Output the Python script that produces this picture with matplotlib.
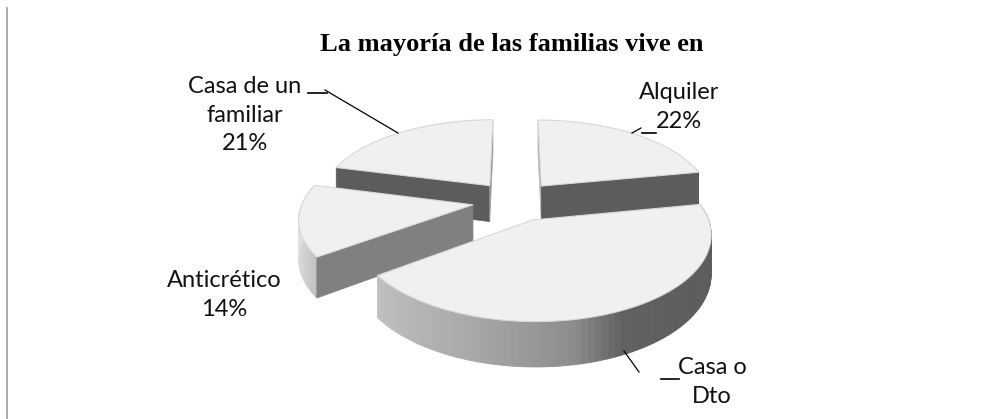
#!/usr/bin/env python3
"""
Exploded 3D pie: La mayoria de las familias vive en
"""

import numpy as np
import matplotlib
matplotlib.use('Agg')
import matplotlib.pyplot as plt

# Data
categories = ['Alquiler', 'Casa o Dto', 'Anticrético', 'Casa de un familiar']
values = [22, 43, 14, 21]
label_texts = ['Alquiler\n22%', 'Casa o\nDto', 'Anticrético\n14%', 'Casa de un\nfamiliar\n21%']

# Projection of the pie plane onto the picture (pixels)
cx, cy = 515, 201
scale_x, scale_y = 170, 80
persp = 0.15
explode = 0.25
depth = 37
top_color = '#f0f0f0'
edge_color = '#d8d8d8'


def project(x, y):
    w = 1 + persp * y
    return cx + scale_x * x / w, cy - scale_y * y / w, depth / w


def wall_gray(theta):
    # shade of the rim by angle: dark on the right, pale on the left
    t = np.clip((np.cos(np.radians(theta)) + 1) / 2, 0, 1)
    return np.interp(t, [0, 0.1, 0.35, 0.6, 0.72, 1], [0.88, 0.75, 0.66, 0.55, 0.38, 0.36])


def draw_slice(ax, theta1, theta2, side_grays):
    """theta1 > theta2, going clockwise. side_grays None = cut face hidden"""
    mid = np.radians((theta1 + theta2) / 2)
    ox, oy = explode * np.cos(mid), explode * np.sin(mid)
    angles = np.linspace(theta1, theta2, 80)
    rx = ox + np.cos(np.radians(angles))
    ry = oy + np.sin(np.radians(angles))
    px, py, pd = project(rx, ry)
    ax0, ay0, ad0 = project(ox, oy)

    # rim, split in small pieces to get the gradient
    for i in range(len(angles) - 1):
        if np.sin(np.radians(angles[i])) > 0.25:
            continue
        g = str(float(wall_gray(angles[i])))
        ax.fill([px[i], px[i + 1], px[i + 1], px[i]],
                [py[i], py[i + 1], py[i + 1] + pd[i + 1], py[i] + pd[i]],
                facecolor=g, edgecolor=g, linewidth=0.6, zorder=2)

    # flat cut faces
    for i, gray in zip([0, -1], side_grays):
        if gray is None:
            continue
        ax.fill([ax0, px[i], px[i], ax0],
                [ay0, py[i], py[i] + pd[i], ay0 + ad0],
                facecolor=str(gray), edgecolor=str(gray), linewidth=0.5, zorder=2)

    # top surface
    ax.fill(np.r_[ax0, px], np.r_[ay0, py], facecolor=top_color,
            edgecolor=edge_color, linewidth=0.8, zorder=2)


fig, ax = plt.subplots(figsize=(10.08, 4.19), dpi=100)
fig.subplots_adjust(0, 0, 1, 1)
ax.set_xlim(0, 1008)
ax.set_ylim(419, 0)
ax.axis('off')

# Angles start at 12 o'clock and go clockwise
edges = 90 - np.cumsum([0] + values) * 3.6
cut_faces = [(0.7, 0.36), (None, None), (0.5, None), (0.36, 0.6)]

# Back slices first so the front ones cover them
for idx in [3, 0, 2, 1]:
    draw_slice(ax, edges[idx], edges[idx + 1], cut_faces[idx])

# Title
ax.text(512, 45, 'La mayoría de las familias vive en', ha='center', va='center',
        fontsize=19, fontweight='bold', family='Liberation Serif', color='black')

# Labels
label_font = 'Lato'
label_pos = [(679, 107), (712, 382), (224, 295), (245, 115)]
for txt, (x, y) in zip(label_texts, label_pos):
    ax.text(x, y, txt, ha='center', va='center', fontsize=17, family=label_font,
            color='#111111', linespacing=1.45, zorder=5)

# Leader lines and their little ticks
ax.plot([398, 325], [133, 90], color='black', lw=0.9, zorder=4)
ax.plot([308, 327], [93, 93], color='black', lw=1.2, zorder=4)
ax.plot([632, 641], [133, 128], color='black', lw=0.9, zorder=4)
ax.plot([642, 656], [133, 133], color='black', lw=1.2, zorder=4)
ax.plot([624, 639], [351, 372], color='black', lw=0.9, zorder=4)
ax.plot([661, 679], [379, 379], color='black', lw=1.2, zorder=4)

# Page border on the left
ax.plot([7, 7], [8, 419], color='#999999', lw=1.2)

plt.savefig('out.png', dpi=100, facecolor='white')
